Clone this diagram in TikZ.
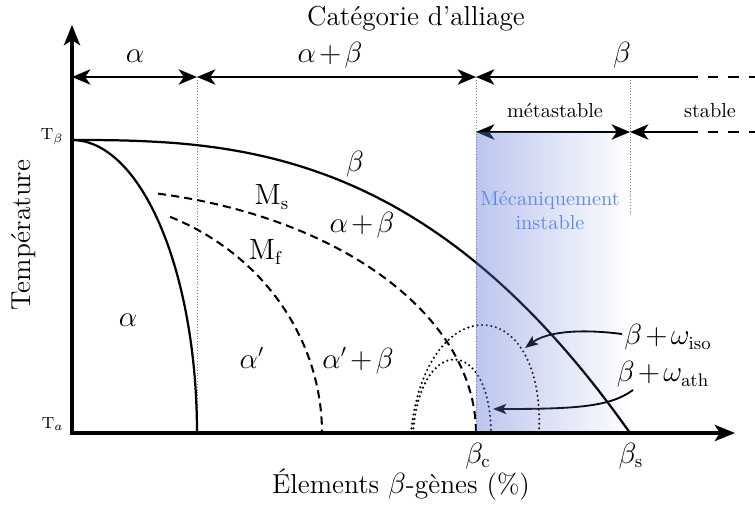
\documentclass[tikz,border=0pt]{standalone}
\usetikzlibrary{arrows.meta,fadings}
\definecolor{shadeblue}{RGB}{95,119,215}
\definecolor{textblue}{RGB}{100,136,232}
\tikzfading[name=fadeRight, left color=transparent!0, right color=transparent!100]
\newcommand{\tplus}{\mskip2mu{+}\mskip2mu}
\tikzset{
  labBig/.style={font=\fontsize{13.5}{16}\selectfont, inner sep=0pt},
  labSmall/.style={font=\fontsize{10}{12}\selectfont, inner sep=0pt},
  labTiny/.style={font=\fontsize{8.5}{10}\selectfont, inner sep=0pt},
  axisline/.style={line width=1.5pt},
  barline/.style={line width=1.35pt},
  curveline/.style={line width=1.1pt},
  dashline/.style={line width=1pt, dash pattern=on 4pt off 2.5pt},
  dotline/.style={line width=1.15pt, line cap=round, dash pattern=on 0pt off 2.3pt},
  guideline/.style={line width=0.4pt, gray, dash pattern=on 0.4pt off 1pt},
  barend/.style={barline, dash pattern=on 5pt off 5pt, dash phase=5pt},
  omarrow/.style={line width=0.9pt, -{Stealth[length=6.5pt,width=5pt,inset=1.5pt]}},
  barTip/.tip={Stealth[length=9pt,width=7.5pt,inset=2.5pt]},
  axTip/.tip={Stealth[length=10pt,width=8pt,inset=2.5pt]}
}
\begin{document}
\begin{tikzpicture}[x=0.4926pt,y=-0.4926pt]
\useasboundingbox (0,0) rectangle (755,506);
% key points
\coordinate (O) at (72,433);
\coordinate (Ytip) at (72,25);
\coordinate (Xtip) at (735,433);
\coordinate (Tb) at (72,140);
\coordinate (Aend) at (197,433);
\coordinate (Bc) at (476,433);
\coordinate (Bs) at (630,433);
\coordinate (C0) at (72,77);
\coordinate (C1) at (197,77);
\coordinate (C2) at (476,77);
\coordinate (C3) at (698,77);
\coordinate (C4) at (755,77);
\coordinate (D2) at (476,132);
\coordinate (D3) at (630,132);
\coordinate (D4) at (698,132);
\coordinate (D5) at (755,132);
\coordinate (V3) at (630,77);
\coordinate (V3b) at (630,214);
\coordinate (isoStart) at (622,334);
\coordinate (isoEnd) at (525,348);
\coordinate (athStart) at (633,390);
\coordinate (athEnd) at (493,409);

% guide lines
\draw[guideline] (C1) -- (Aend);
\draw[guideline] (C2) -- (Bc);
\draw[guideline] (V3) -- (V3b);

% category bars
\draw[barline, barTip-barTip] (C0) -- (C1);
\draw[barline, barTip-barTip] (C1) -- (C2);
\draw[barline, barTip-] (C2) -- (C3);
\draw[barend] (C3) -- (C4);
\draw[barline, barTip-barTip] (D2) -- (D3);
\draw[barline, barTip-] (D3) -- (D4);
\draw[barend] (D4) -- (D5);

% axes
\draw[axisline, axTip-axTip] (Ytip) -- (O) -- (Xtip);

% phase boundaries
\draw[curveline] (Tb) -- plot[domain=0.02:1, samples=70, variable=\t] ({72+558*\t},{140+293*\t^2.7});
\draw[curveline] plot[domain=0:90, samples=60, variable=\a] ({72+125*sin(\a)},{433-293*cos(\a)});
\draw[dashline] plot[domain=12.3:90, samples=60, variable=\a] ({72+404*sin(\a)},{433-245*cos(\a)});
\draw[dashline] plot[domain=23.1:90, samples=60, variable=\a] ({72+250*sin(\a)},{433-235*cos(\a)});
\draw[dotline] (411,433) .. controls (425,289) and (545,289) .. (539,433);
\draw[dotline] (413,433) .. controls (420,335) and (490,335) .. (491,433);

% omega arrows
\draw[omarrow] (isoStart) .. controls (575,328) and (545,333) .. (isoEnd);
\draw[omarrow] (athStart) .. controls (610,407) and (575,409) .. (athEnd);

% mechanically unstable zone
\fill[shadeblue, fill opacity=0.42, path fading=fadeRight] (D2) rectangle (630,431);

% labels
\node[labBig, anchor=base] (lTitle) at (416,26) {Catégorie d'alliage};
\node[labBig, anchor=base] (lA) at (135,63) {$\alpha$};
\node[labBig, anchor=base] (lAB) at (330,63) {$\alpha\tplus\beta$};
\node[labBig, anchor=base] (lB) at (622,63) {$\beta$};
\node[labSmall, anchor=base] (lMeta) at (555,118) {métastable};
\node[labSmall, anchor=base] (lStab) at (710,118) {stable};
\node[labTiny, anchor=base east] (lTb) at (64,140) {$\mathrm{T}_\beta$};
\node[labTiny, anchor=base east] (lTa) at (64,428) {$\mathrm{T}_a$};
\node[labBig, anchor=base] (rB) at (355,172) {$\beta$};
\node[labBig, anchor=base] (rMs) at (272,205) {$\mathrm{M_s}$};
\node[labBig, anchor=base] (rAB) at (362,233) {$\alpha\tplus\beta$};
\node[labBig, anchor=base] (rMf) at (266,260) {$\mathrm{M_f}$};
\node[labBig, anchor=base] (rA) at (128,327) {$\alpha$};
\node[labBig, anchor=base] (rAp) at (252,368) {$\alpha'$};
\node[labBig, anchor=base] (rApB) at (358,368) {$\alpha'\tplus\beta$};
\node[labBig, anchor=base] (iso) at (668,345) {$\beta\tplus\omega_{\mathrm{iso}}$};
\node[labBig, anchor=base] (ath) at (663,382) {$\beta\tplus\omega_{\mathrm{ath}}$};
\node[labBig, anchor=base] (lBc) at (478,463) {$\beta_{\mathrm{c}}$};
\node[labBig, anchor=base] (lBs) at (631,463) {$\beta_{\mathrm{s}}$};
\node[labBig, anchor=base] (xlab) at (401,493) {Élements $\beta$-gènes (\%)};
\node[labBig, rotate=90] (temp) at (24,235) {Température};
\node[labSmall, text=textblue, align=center, font=\fontsize{10}{11.8}\selectfont] (meca) at (550,211) {Mécaniquement\\instable};
\end{tikzpicture}
\end{document}
